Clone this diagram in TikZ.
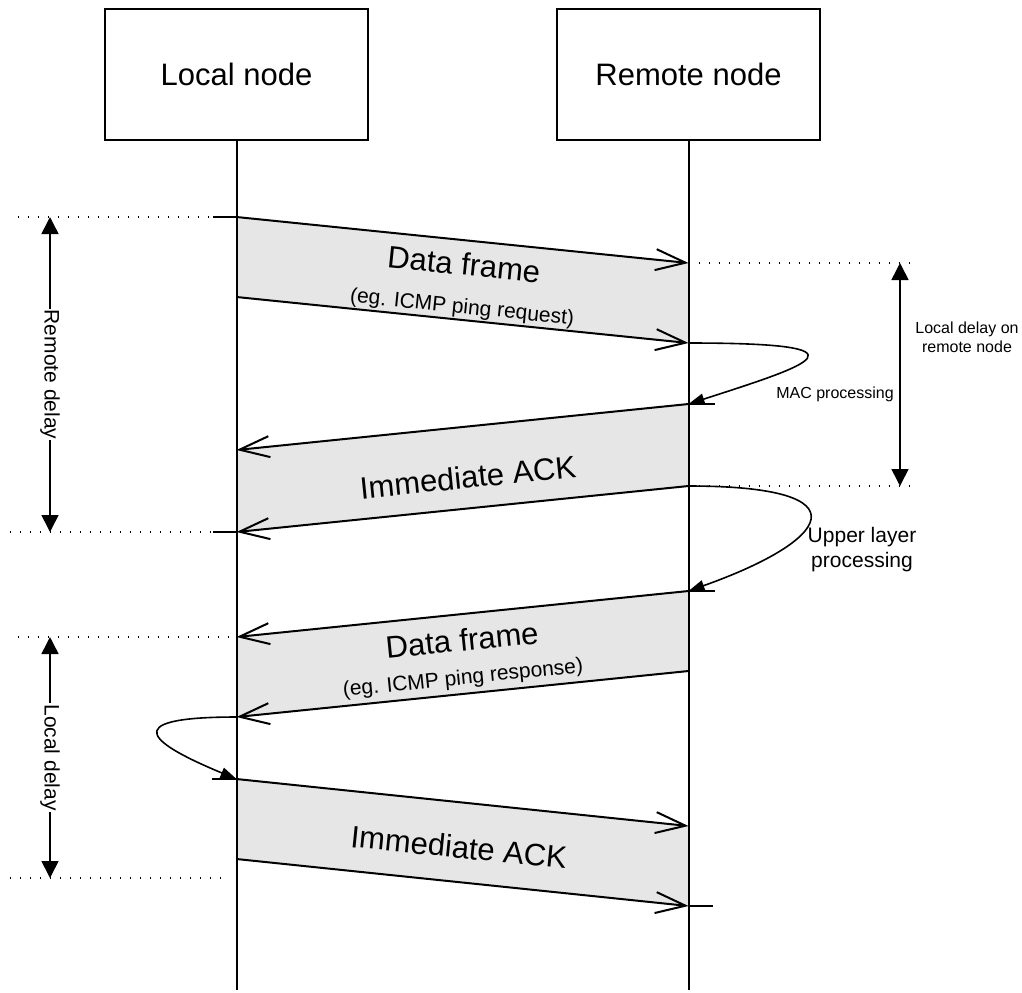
\documentclass[tikz,border=0pt]{standalone}
\usepackage{fontspec}
\setmainfont{Liberation Sans}
\usepackage{xcolor}
\usetikzlibrary{arrows.meta, positioning}
\definecolor{framegray}{HTML}{E6E6E6}

\begin{document}
\begin{tikzpicture}[
  x=0.5pt, y=-0.5pt,
  station/.style={draw, line width=1pt, minimum width=131.5pt, minimum height=65.5pt, font=\fontsize{15.5}{18}\selectfont},
  lifeline/.style={line width=1pt},
  msg/.style={line width=1pt, -{Straight Barb[length=15pt, width=10.5pt]}},
  slab/.style={fill=framegray},
  tickline/.style={line width=1pt},
  guide/.style={line width=0.6pt, dash pattern=on 0.6pt off 4.4pt},
  proc/.style={line width=0.8pt, -{Triangle[length=8pt, width=5.5pt]}},
  delay/.style={line width=0.8pt, {Triangle[length=8.5pt, width=8.5pt]}-{Triangle[length=8.5pt, width=8.5pt]}},
  msgtitle/.style={inner sep=0.5pt, font=\fontsize{15.5}{18}\selectfont},
  msgnote/.style={inner sep=0.5pt, font=\fontsize{10.5}{12.5}\selectfont},
  sidenote/.style={font=\fontsize{8}{9.5}\selectfont},
  delaylbl/.style={fill=white, inner sep=0.5pt, rotate=-90, font=\fontsize{10.5}{12.5}\selectfont}
]
\useasboundingbox (0,0) rectangle (1022,992);

\node[station] (local) at (236.5,74.5) {Local node};
\node[station, right=93.5pt of local] (remote) {Remote node};

% points on the lifelines
\coordinate (localend) at (local.south |- 0,990);
\coordinate (remoteend) at (remote.south |- 0,990);
\coordinate (reqTL) at (local.south |- 0,217);
\coordinate (reqBL) at (local.south |- 0,297);
\coordinate (ackTL) at (local.south |- 0,450);
\coordinate (ackBL) at (local.south |- 0,532);
\coordinate (rspTL) at (local.south |- 0,637);
\coordinate (rspBL) at (local.south |- 0,717);
\coordinate (ack2TL) at (local.south |- 0,779);
\coordinate (ack2BL) at (local.south |- 0,859);
\coordinate (reqTR) at (remote.south |- 0,263);
\coordinate (reqBR) at (remote.south |- 0,343);
\coordinate (ackTR) at (remote.south |- 0,404);
\coordinate (ackBR) at (remote.south |- 0,486);
\coordinate (rspTR) at (remote.south |- 0,591);
\coordinate (rspBR) at (remote.south |- 0,671);
\coordinate (ack2TR) at (remote.south |- 0,826);
\coordinate (ack2BR) at (remote.south |- 0,906);

% frames
\fill[slab] (reqTL) -- (reqTR) -- (reqBR) -- (reqBL) -- cycle;
\fill[slab] (ackTR) -- (ackTL) -- (ackBL) -- (ackBR) -- cycle;
\fill[slab] (rspTR) -- (rspTL) -- (rspBL) -- (rspBR) -- cycle;
\fill[slab] (ack2TL) -- (ack2TR) -- (ack2BR) -- (ack2BL) -- cycle;

\draw[lifeline] (local.south) -- (localend);
\draw[lifeline] (remote.south) -- (remoteend);

\draw[msg] (reqTL) -- (reqTR);
\draw[msg] (reqBL) -- (reqBR);
\draw[msg] (ackTR) -- (ackTL);
\draw[msg] (ackBR) -- (ackBL);
\draw[msg] (rspTR) -- (rspTL);
\draw[msg] (rspBR) -- (rspBL);
\draw[msg] (ack2TL) -- (ack2TR);
\draw[msg] (ack2BL) -- (ack2BR);

\node[msgtitle, rotate=-5.8] (reqtitle) at (464,264) {Data frame};
\node[msgnote, rotate=-5.8] (reqnote) at (462,308) {(eg. ICMP ping request)};
\node[msgtitle, rotate=5.8] (acktitle) at (468,477) {Immediate ACK};
\node[msgtitle, rotate=5.8] (rsptitle) at (462,640) {Data frame};
\node[msgnote, rotate=5.8] (rspnote) at (463,679) {(eg. ICMP ping response)};
\node[msgtitle, rotate=-5.8] (ack2title) at (459,847) {Immediate ACK};

% processing loops
\draw[proc] (reqBR) .. controls +(191,0) and +(121,-39) .. (ackTR);
\draw[proc] (ackBR) .. controls +(181,0) and +(141,-50) .. (rspTR);
\draw[proc] (rspBL) .. controls +(-125,0) and +(-82,-34) .. (ack2TL);
\node[sidenote] (maclabel) at (835,394) {MAC processing};
\node[msgnote, align=center] (uplabel) at (862,550) {Upper layer\\processing};

\draw[tickline] (reqTL) -- ++(-24,0);
\draw[tickline] (ackTR) -- ++(26,0);
\draw[tickline] (ackBL) -- ++(-24,0);
\draw[tickline] (rspTR) -- ++(26,0);
\draw[tickline] (ack2TL) -- ++(-25,0);
\draw[tickline] (ack2BR) -- ++(24,0);

% delays
\coordinate (g1) at (18,217);
\coordinate (g2) at (10,532);
\coordinate (g3) at (917,263);
\coordinate (g4) at (917,486);
\coordinate (g5) at (18,637);
\coordinate (g6) at (10,878);
\coordinate (g6e) at (227,878);
\draw[guide] (g1) -- (reqTL);
\draw[guide] (g2) -- (ackBL);
\draw[guide] (reqTR) -- (g3);
\draw[guide] (ackBR) -- (g4);
\draw[guide] (g5) -- (rspTL);
\draw[guide] (g6) -- (g6e);

\coordinate (rdtop) at (50,217);
\coordinate (rdbot) at (50,532);
\coordinate (ldtop) at (50,637);
\coordinate (ldbot) at (50,878);
\coordinate (rltop) at (900,263);
\coordinate (rlbot) at (900,486);
\draw[delay] (rdtop) -- node[delaylbl] (rdlabel) {Remote delay} (rdbot);
\draw[delay] (ldtop) -- node[delaylbl] (ldlabel) {Local delay} (ldbot);
\draw[delay] (rltop) -- (rlbot);
\node[sidenote, align=center] (rllabel) at (967,337) {Local delay on\\remote node};
\end{tikzpicture}
\end{document}
